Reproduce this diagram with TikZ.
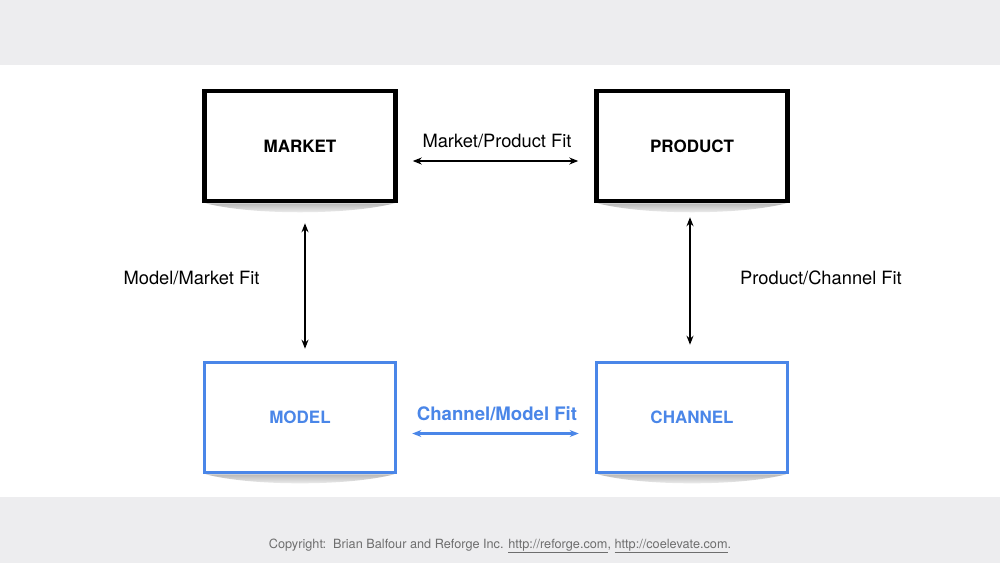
\documentclass[tikz,border=0pt]{standalone}
\usepackage{fontspec}
\setmainfont{TeX Gyre Heros}
\usetikzlibrary{arrows.meta,positioning}
\usepackage{xcolor}
\definecolor{bandgray}{HTML}{EDEDEF}
\definecolor{fitblue}{HTML}{4A86E8}
\definecolor{notegray}{HTML}{6E6E6E}

\tikzset{
  fitbox/.style={draw,fill=white,line width=4.5pt,minimum width=191pt,minimum height=110pt,
    font=\fontsize{17}{20}\selectfont\bfseries},
  bluebox/.style={fitbox,draw=fitblue,text=fitblue,line width=3.6pt},
  fitarrow/.style={{Stealth[length=9pt,width=7pt]}-{Stealth[length=9pt,width=7pt]},line width=1.5pt},
  fitlabel/.style={font=\fontsize{18.3}{21}\selectfont}
}

\begin{document}
\begin{tikzpicture}[x=1pt,y=-1pt]
  \useasboundingbox (0,0) rectangle (1000,563);
  \fill[white] (0,0) rectangle (1000,563);
  \fill[bandgray] (0,0) rectangle (1000,65);
  \fill[bandgray] (0,497) rectangle (1000,563);

  % the four boxes
  \node[fitbox] (market) at (300,146) {MARKET};
  \node[fitbox] (product) at (692,146) {PRODUCT};
  \node[bluebox] (model) at (300,417.5) {MODEL};
  \node[bluebox] (channel) at (692,417.5) {CHANNEL};

  \foreach \b in {market,product,model,channel} {
    \shade[top color=black!28,bottom color=white]
      ([xshift=3pt]\b.south west) .. controls ([shift={(50,12)}]\b.south west)
      and ([shift={(-50,12)}]\b.south east) .. ([xshift=-3pt]\b.south east) -- cycle;
  }

  % fits
  \draw[fitarrow,shorten <=15pt,shorten >=16pt] ([yshift=-15pt]market.east) -- ([yshift=-15pt]product.west);
  \node[fitlabel] (mpfit) at (497,141) {Market/Product Fit};

  \draw[fitarrow,shorten <=20pt,shorten >=12pt] ([xshift=5pt]market.south) -- ([xshift=5pt]model.north);
  \node[fitlabel] (mmfit) at (191.5,278) {Model/Market Fit};

  \draw[fitarrow,shorten <=14pt,shorten >=16pt] ([xshift=-2pt]product.south) -- ([xshift=-2pt]channel.north);
  \node[fitlabel] (pcfit) at (821,278) {Product/Channel Fit};

  \draw[fitarrow,fitblue,line width=2.4pt,shorten <=15pt,shorten >=16pt] ([yshift=-16pt]model.east) -- ([yshift=-16pt]channel.west);
  \node[fitlabel,fitblue,font=\fontsize{18.6}{21}\selectfont\bfseries] (cmfit) at (497,414) {Channel/Model Fit};

  \node[text=notegray,font=\fontsize{12.7}{15}\selectfont] (note) at (500,546)
    {Copyright:\ \ Brian Balfour and Reforge Inc. \underline{http://reforge.com}, \underline{http://coelevate.com}.};
\end{tikzpicture}
\end{document}
